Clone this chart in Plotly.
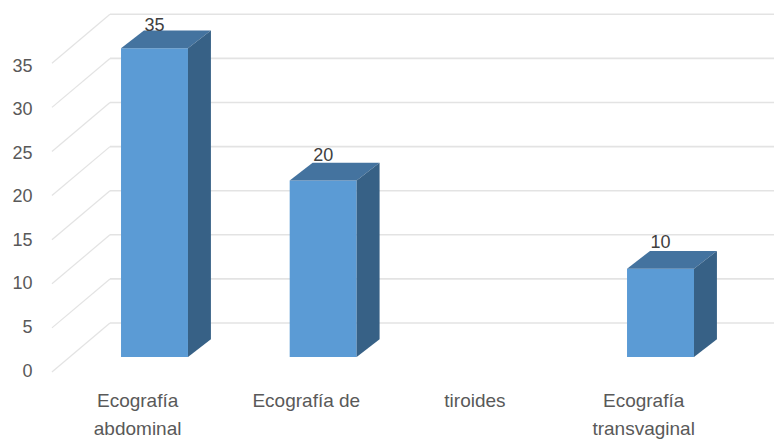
import plotly.graph_objects as go

# Chart content
line_one = ["Ecografía", "Ecografía de", "tiroides", "Ecografía"]
line_two = ["abdominal", "", "", "transvaginal"]
values = [35, 20, None, 10]
tick_values = [0, 5, 10, 15, 20, 25, 30, 35]

# Canvas and the oblique projection, in category units and value units
W, H = 774, 439
PX_PER_CAT = 168.67
PX_PER_VAL = 8.82
X_MIN, X_MAX = -0.916, -0.916 + W / PX_PER_CAT
Y_MIN, Y_MAX = -9.30, -9.30 + H / PX_PER_VAL
BAR_WIDTH = 0.397
BAR_DX, BAR_DY = 0.136, 2.02          # depth of each column
WALL_X_FRONT = -0.608                 # left end of the side-wall rules
WALL_X_BACK = -0.264
WALL_Y_FRONT, WALL_Y_BACK = -1.70, 3.85
LABEL_SHIFT_X = 0.10                  # category labels sit left of their column
TICK_SHIFT_Y = -1.50                  # value-axis labels start just under the floor edge
TICK_PITCH = 0.988                    # and close up slightly towards the top
GRID = "#e3e3e3"
FRONT, TOP, SIDE = "#5b9bd5", "#44739f", "#376186"

fig = go.Figure()

# Back-wall and side-wall gridlines stay underneath the columns
shapes = []
for t in tick_values:
    shapes.append(dict(type="line", layer="below", xref="x", yref="y",
                       x0=WALL_X_BACK, x1=X_MAX, y0=t + WALL_Y_BACK, y1=t + WALL_Y_BACK,
                       line=dict(color=GRID, width=1.6)))
    shapes.append(dict(type="line", layer="below", xref="x", yref="y",
                       x0=WALL_X_FRONT, x1=WALL_X_BACK, y0=t + WALL_Y_FRONT, y1=t + WALL_Y_BACK,
                       line=dict(color=GRID, width=1.2)))

# Front faces
fig.add_trace(go.Bar(x=list(range(len(values))), y=values, width=BAR_WIDTH,
                     marker=dict(color=FRONT, line=dict(width=0)), hoverinfo="skip"))

# Top and side faces derived from each column's value
for i, v in enumerate(values):
    if v is None:
        continue
    left, right = i - BAR_WIDTH / 2, i + BAR_WIDTH / 2
    fig.add_trace(go.Scatter(
        x=[left, right, right + BAR_DX, left + BAR_DX, left],
        y=[v, v, v + BAR_DY, v + BAR_DY, v],
        mode="lines", fill="toself", fillcolor=TOP, line=dict(width=0), hoverinfo="skip"))
    fig.add_trace(go.Scatter(
        x=[right, right + BAR_DX, right + BAR_DX, right, right],
        y=[0, BAR_DY, v + BAR_DY, v, 0],
        mode="lines", fill="toself", fillcolor=SIDE, line=dict(width=0), hoverinfo="skip"))

# Value labels above the columns
shown = [(i, v) for i, v in enumerate(values) if v is not None]
fig.add_trace(go.Scatter(
    x=[i for i, _ in shown], y=[v * 0.985 + 3.0 for _, v in shown],
    text=[str(v) for _, v in shown], mode="text", textposition="middle center",
    textfont=dict(family="Liberation Sans", size=18, color="#404040"), hoverinfo="skip"))

label_font = dict(family="Liberation Sans", size=19, color="#595959")
cat_ticks = [i - LABEL_SHIFT_X for i in range(len(line_one))]
fig.update_layout(
    width=W, height=H, margin=dict(l=0, r=0, t=0, b=0),
    paper_bgcolor="white", plot_bgcolor="white", showlegend=False, shapes=shapes,
    xaxis=dict(range=[X_MIN, X_MAX], domain=[0, 1], anchor="free", position=1 - 387 / H,
               tickmode="array", tickvals=cat_ticks, ticktext=line_one, tickfont=label_font,
               ticks="", showgrid=False, zeroline=False, showline=False),
    xaxis2=dict(range=[X_MIN, X_MAX], overlaying="x", anchor="free", position=1 - 415 / H, side="bottom",
                tickmode="array", tickvals=cat_ticks, ticktext=line_two, tickfont=label_font,
                ticks="", showgrid=False, zeroline=False, showline=False),
    yaxis=dict(range=[Y_MIN, Y_MAX], domain=[0, 1], anchor="free", position=32.5 / W,
               tickmode="array", tickvals=[t * TICK_PITCH + TICK_SHIFT_Y for t in tick_values],
               ticktext=[str(t) for t in tick_values],
               tickfont=dict(family="Liberation Sans", size=18, color="#595959"),
               ticks="", showgrid=False, zeroline=False, showline=False),
)
# Empty trace so the second category axis is drawn
fig.add_trace(go.Scatter(x=[None], y=[None], xaxis="x2", hoverinfo="skip"))

fig.write_html("out.html", config=dict(displayModeBar=False))
